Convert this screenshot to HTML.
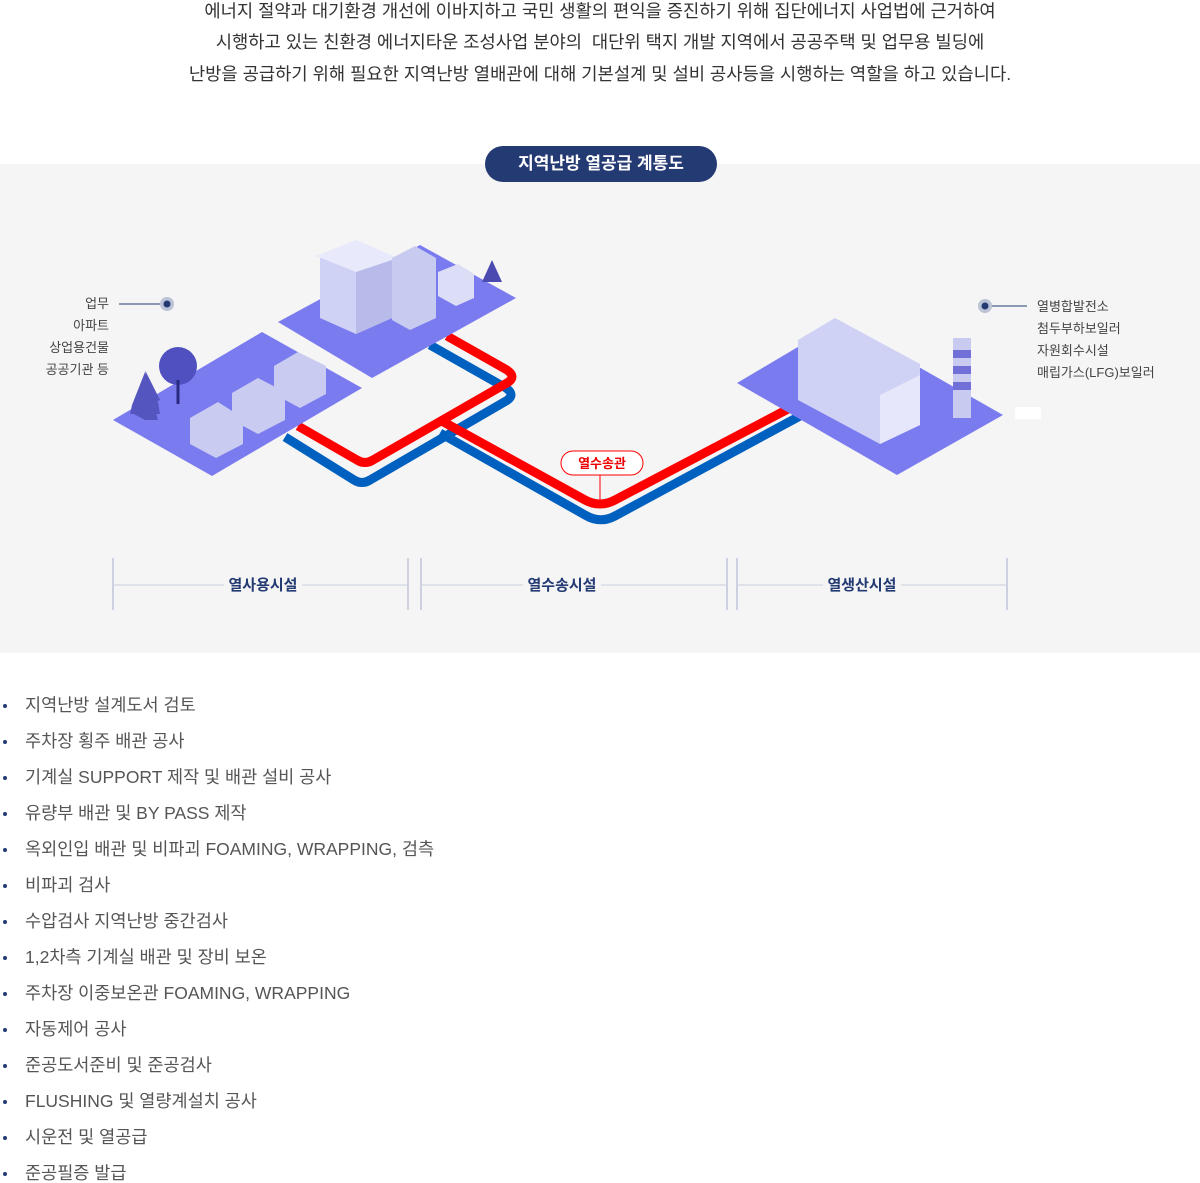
<!DOCTYPE html>
<html><head><meta charset="utf-8"><style>
body{margin:0;width:1200px;height:1181px;background:#fff;position:relative;overflow:hidden;font-family:"Liberation Sans","Noto Sans CJK KR",sans-serif;}
.p{position:absolute;left:0;width:1200px;text-align:center;font-size:17.7px;color:#333;line-height:20px}
.band{position:absolute;left:0;top:164px;width:1200px;height:489px;background:#f5f5f5}
.pill{position:absolute;left:485px;top:146px;width:232px;height:36px;border-radius:18px;background:#243a73;color:#fff;font-size:17px;font-weight:bold;text-align:center;line-height:36px}
.li{position:absolute;left:25px;font-size:17.5px;color:#555;line-height:20px}
.li:before{content:"";position:absolute;left:-22px;top:9px;width:4px;height:4px;border-radius:2px;background:#243a73}
.lab{position:absolute;font-size:13px;color:#444;line-height:22px}
</style></head><body>
<div class="p" style="top:1px">에너지 절약과 대기환경 개선에 이바지하고 국민 생활의 편익을 증진하기 위해 집단에너지 사업법에 근거하여</div>
<div class="p" style="top:32px">시행하고 있는 친환경 에너지타운 조성사업 분야의 &nbsp;대단위 택지 개발 지역에서 공공주택 및 업무용 빌딩에</div>
<div class="p" style="top:64px">난방을 공급하기 위해 필요한 지역난방 열배관에 대해 기본설계 및 설비 공사등을 시행하는 역할을 하고 있습니다.</div>
<div class="band"></div>
<div class="pill">지역난방 열공급 계통도</div>
<svg style="position:absolute;left:0;top:0" width="1200" height="660">
<g fill="none" stroke-linejoin="round" stroke-width="9">
<path d="M430,345 L506,388 Q516,395 506,401 L370,480 Q362,485 354,480 L285,437" stroke="#0060c0"/>
<path d="M440,433 L585,515 Q600,524 615,516 L800,416" stroke="#0060c0"/>
<path d="M447,336 L507,370 Q517,377 507,383 L373,460 Q365,465 357,460 L298,426" stroke="#f00"/>
<path d="M440,420 L585,500 Q600,508 615,500 L790,408" stroke="#f00"/>
</g>
<polygon points="278,322 420,245 516,298 372,378" fill="#7b7bf0"/>
<polygon points="113,420 262,332 362,388 212,476" fill="#7b7bf0"/>
<polygon points="737,383 840,322 1003,415 897,475" fill="#7b7bf0"/>
<!-- buildings -->
<polygon points="320,258 356,243 392,258 392,318 356,334 320,318" fill="#d0d2f5"/>
<polygon points="356,270 392,258 392,318 356,334" fill="#b8bbea"/>
<polygon points="316,256 356,240 398,258 356,272" fill="#e8e9fb"/>
<polygon points="392,258 415,246 436,258 436,318 410,330 392,320" fill="#c8cbf0"/>
<polygon points="438,272 458,264 474,274 474,298 456,306 438,296" fill="#dcdef8"/>
<polygon points="492,260 502,282 482,282" fill="#4a4ab0"/>
<polygon points="145,370 160,400 130,412 145,420 158,420" fill="#5555c0"/>
<polygon points="145,372 132,405 130,414 160,414 158,402" fill="#5555c0"/>
<circle cx="178" cy="366" r="19" fill="#5050c0"/>
<line x1="178" y1="380" x2="178" y2="404" stroke="#2a2a80" stroke-width="3"/>
<polygon points="190,418 218,402 243,418 243,444 216,458 190,444" fill="#c9cbf0"/>
<polygon points="232,393 258,378 285,392 285,420 258,434 232,420" fill="#c9cbf0"/>
<polygon points="274,366 298,352 326,366 326,394 300,408 274,394" fill="#c9cbf0"/>
<!-- factory -->
<polygon points="798,340 835,318 920,364 920,425 880,444 798,400" fill="#cfd1f5"/>
<polygon points="880,395 920,375 920,425 880,444" fill="#e6e7fb"/>
<rect x="953" y="338" width="18" height="80" fill="#c8caf0"/>
<rect x="953" y="350" width="18" height="8" fill="#7070d8"/><rect x="953" y="366" width="18" height="8" fill="#7070d8"/><rect x="953" y="382" width="18" height="8" fill="#7070d8"/>
<rect x="1015" y="407" width="26" height="12" fill="#fff"/>
<!-- callouts -->
<line x1="119" y1="304" x2="160" y2="304" stroke="#243a73"/>
<circle cx="167" cy="304" r="7" fill="#bcc3d6"/><circle cx="167" cy="304" r="3.5" fill="#243a73"/>
<line x1="986" y1="306" x2="1027" y2="306" stroke="#243a73"/>
<circle cx="985" cy="306" r="7" fill="#bcc3d6"/><circle cx="985" cy="306" r="3.5" fill="#243a73"/>
<line x1="600" y1="475" x2="600" y2="500" stroke="#f00"/>
<rect x="561" y="451" width="82" height="24" rx="12" fill="#fff" stroke="#f00"/>
<text x="602" y="468" text-anchor="middle" font-size="13" font-weight="bold" fill="#e00" font-family="Liberation Sans,Noto Sans CJK KR,sans-serif">열수송관</text>
<!-- brackets -->
<g stroke="#ccd0e0" stroke-width="2">
<line x1="113" y1="558" x2="113" y2="610"/><line x1="408" y1="558" x2="408" y2="610"/>
<line x1="421" y1="558" x2="421" y2="610"/><line x1="727" y1="558" x2="727" y2="610"/>
<line x1="737" y1="558" x2="737" y2="610"/><line x1="1007" y1="558" x2="1007" y2="610"/>
</g>
<g stroke="#ccd0e0" stroke-width="1">
<line x1="113" y1="585" x2="408" y2="585"/><line x1="421" y1="585" x2="727" y2="585"/><line x1="737" y1="585" x2="1007" y2="585"/>
</g>
<g font-size="15" font-weight="bold" fill="#243a73" text-anchor="middle" font-family="Liberation Sans,Noto Sans CJK KR,sans-serif">
<rect x="224" y="574" width="78" height="22" fill="#f5f5f5"/><text x="263" y="590">열사용시설</text>
<rect x="523" y="574" width="78" height="22" fill="#f5f5f5"/><text x="562" y="590">열수송시설</text>
<rect x="823" y="574" width="78" height="22" fill="#f5f5f5"/><text x="862" y="590">열생산시설</text>
</g>
</svg>
<div class="lab" style="right:1091px;top:293px;text-align:right">업무<br>아파트<br>상업용건물<br>공공기관 등</div>
<div class="lab" style="left:1037px;top:296px">열병합발전소<br>첨두부하보일러<br>자원회수시설<br>매립가스(LFG)보일러</div>
<div class="li" style="top:695px">지역난방 설계도서 검토</div>
<div class="li" style="top:731px">주차장 횡주 배관 공사</div>
<div class="li" style="top:767px">기계실 SUPPORT 제작 및 배관 설비 공사</div>
<div class="li" style="top:803px">유량부 배관 및 BY PASS 제작</div>
<div class="li" style="top:839px">옥외인입 배관 및 비파괴 FOAMING, WRAPPING, 검측</div>
<div class="li" style="top:875px">비파괴 검사</div>
<div class="li" style="top:911px">수압검사 지역난방 중간검사</div>
<div class="li" style="top:947px">1,2차측 기계실 배관 및 장비 보온</div>
<div class="li" style="top:983px">주차장 이중보온관 FOAMING, WRAPPING</div>
<div class="li" style="top:1019px">자동제어 공사</div>
<div class="li" style="top:1055px">준공도서준비 및 준공검사</div>
<div class="li" style="top:1091px">FLUSHING 및 열량계설치 공사</div>
<div class="li" style="top:1127px">시운전 및 열공급</div>
<div class="li" style="top:1163px">준공필증 발급</div>
</body></html>
